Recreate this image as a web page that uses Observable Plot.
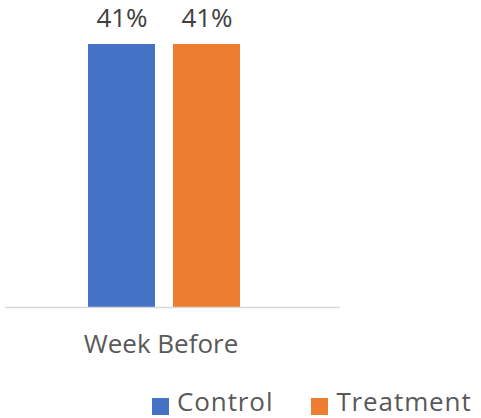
<!DOCTYPE html>
<html>
<head>
<meta charset="utf-8">
<script src="https://cdn.jsdelivr.net/npm/d3@7"></script>
<script src="https://cdn.jsdelivr.net/npm/@observablehq/plot@0.6"></script>
<style>
  body { margin: 0; background: #fff; font-family: "Open Sans", sans-serif; }
  #wrap { position: relative; width: 481px; height: 418px; overflow: hidden; }
  #legend { position: absolute; left: 152px; top: 388px; display: flex; align-items: flex-start; font-size: 26px; line-height: 26px; color: #595959; letter-spacing: 0.9px; white-space: nowrap; }
  .sw { width: 17px; height: 17px; display: inline-block; margin-right: 8px; margin-top: 10px; }
  .item { display: flex; align-items: flex-start; }
</style>
</head>
<body>
<div id="wrap"></div>
<script>
const category = "Week Before";
const series = ["Control", "Treatment"];
const values = [0.41, 0.41];
const colors = ["#4472C4", "#ED7D31"];

const data = series.map((s, i) => ({ category, series: s, value: values[i] }));

const chart = Plot.plot({
  width: 481,
  height: 380,
  marginTop: 44,
  marginBottom: 73,
  marginLeft: 5,
  marginRight: 141,
  style: { fontFamily: "Open Sans, sans-serif", background: "#fff" },
  x: { domain: series, range: [88, 240], paddingInner: 0.212, paddingOuter: 0, axis: null },
  y: { domain: [0, 0.41], axis: null },
  color: { domain: series, range: colors },
  marks: [
    Plot.barY(data, { x: "series", y: "value", fill: "series" }),
    Plot.ruleY([0], { stroke: "#d9d9d9", strokeWidth: 1.5 }),
    Plot.text(data, { x: "series", y: "value", text: d => Math.round(d.value * 100) + "%", lineAnchor: "bottom", dy: -18, fontSize: 26, fill: "#404040" }),
    Plot.text([category], { frameAnchor: "bottom", lineAnchor: "top", dy: 27, dx: -12, text: d => d, fontSize: 26, fill: "#595959" })
  ]
});

const wrap = document.getElementById("wrap");
wrap.appendChild(chart);
const legend = document.createElement("div");
legend.id = "legend";
series.forEach((s, i) => {
  const it = document.createElement("span");
  it.className = "item";
  if (i > 0) it.style.marginLeft = "38px";
  const sw = document.createElement("span");
  sw.className = "sw";
  sw.style.background = colors[i];
  it.appendChild(sw);
  it.appendChild(document.createTextNode(s));
  legend.appendChild(it);
});
wrap.appendChild(legend);
</script>
</body>
</html>
